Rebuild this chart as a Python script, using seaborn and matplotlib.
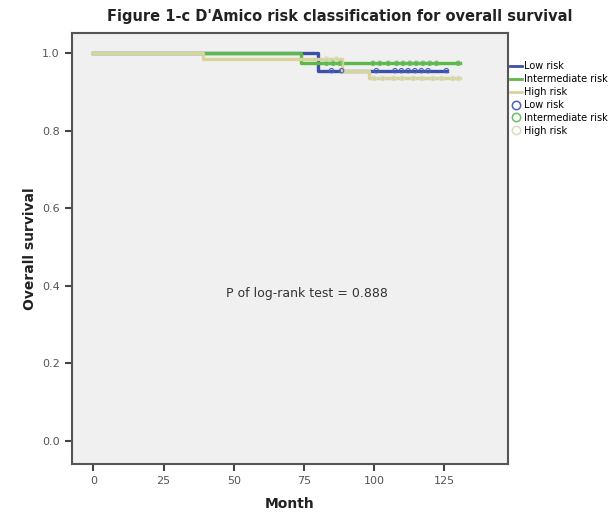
import numpy as np
import pandas as pd
import matplotlib
matplotlib.use("Agg")
import matplotlib.pyplot as plt
from matplotlib.lines import Line2D
import seaborn as sns

# ---- data ----
groups = ["Low risk", "Intermediate risk", "High risk"]

low_times = [0, 80, 126]
low_surv = [1.0, 0.955, 0.955]
low_censor = [84.8, 88.4, 100.8, 107.4, 109.7, 112.1, 114.5, 116.8, 119.2, 125.7]

mid_times = [0, 74, 130.5]
mid_surv = [1.0, 0.974, 0.974]
mid_censor = [83.0, 85.4, 87.8, 99.6, 102.0, 105.0, 108.0, 110.3, 112.7,
              115.0, 117.4, 119.8, 122.2, 129.9]

high_times = [0, 39, 88.5, 98, 130.6]
high_surv = [1.0, 0.985, 0.955, 0.935, 0.935]
high_censor = [83.0, 86.6, 100.0, 103.0, 107.0, 110.0, 114.0, 117.0, 121.0,
               124.0, 128.0, 130.0]

p_text = "P of log-rank test = 0.888"

line_colors = ["#3d4fa6", "#5db849", "#d8d59c"]
circle_colors = ["#4a63b8", "#6cbf63", "#d9dcc0"]


def step_value(times, surv, t):
    i = np.searchsorted(times, t, side="right") - 1
    return np.asarray(surv)[i]


curves = pd.concat([
    pd.DataFrame({"group": g, "month": t, "surv": s})
    for g, t, s in zip(groups, [low_times, mid_times, high_times],
                       [low_surv, mid_surv, high_surv])
])

fig = plt.figure(figsize=(6.13, 5.15), dpi=100)
ax = fig.add_axes([0.117, 0.099, 0.711, 0.8375])
ax.set_facecolor("#f0f0f0")

# low drawn first, high last (khaki sits on top at the start)
for g, c in zip(groups, line_colors):
    sns.lineplot(data=curves[curves.group == g], x="month", y="surv",
                 color=c, lw=2.4, drawstyle="steps-post", estimator=None,
                 sort=False, ax=ax)

for g, t, s, cens, c in zip(groups, [low_times, mid_times, high_times],
                            [low_surv, mid_surv, high_surv],
                            [low_censor, mid_censor, high_censor], circle_colors):
    cy = [step_value(t, s, x) for x in cens]
    ax.scatter(cens, cy, s=10, facecolors="none", edgecolors=c, lw=0.8, zorder=3)

ax.text(76, 0.381, p_text, ha="center", va="center", fontsize=9, color="#333333")

ax.set_xlim(-7.7, 147.5)
ax.set_ylim(-0.06, 1.053)
ax.set_xticks([0, 25, 50, 75, 100, 125])
ax.set_yticks([0, 0.2, 0.4, 0.6, 0.8, 1.0])
ax.set_yticklabels(["0.0", "0.2", "0.4", "0.6", "0.8", "1.0"])
ax.tick_params(colors="#444444", labelcolor="#555555", labelsize=8,
               length=5, width=1.5, direction="out")
for sp in ax.spines.values():
    sp.set_color("#555555")
    sp.set_linewidth(1.5)

ax.set_xlabel("Month", fontsize=10, fontweight="bold", color="#222222", labelpad=8)
ax.set_ylabel("Overall survival", fontsize=10, fontweight="bold", color="#222222",
              labelpad=4)
fig.text(0.555, 0.967, "Figure 1-c D'Amico risk classification for overall survival",
         ha="center", va="center", fontsize=10.5, fontweight="bold", color="#222222")

handles = [Line2D([], [], color=c, lw=2) for c in line_colors]
handles += [Line2D([], [], ls="none", marker="o", markersize=6,
                   markerfacecolor="none", markeredgecolor=c, markeredgewidth=1.1)
            for c in circle_colors]
fig.legend(handles, groups + groups, loc="upper left", bbox_to_anchor=(0.829, 0.885),
           frameon=False, fontsize=7, handlelength=1.2, handletextpad=0.2,
           labelspacing=0.3, borderaxespad=0, borderpad=0.2)

fig.savefig("out.png", dpi=100)
